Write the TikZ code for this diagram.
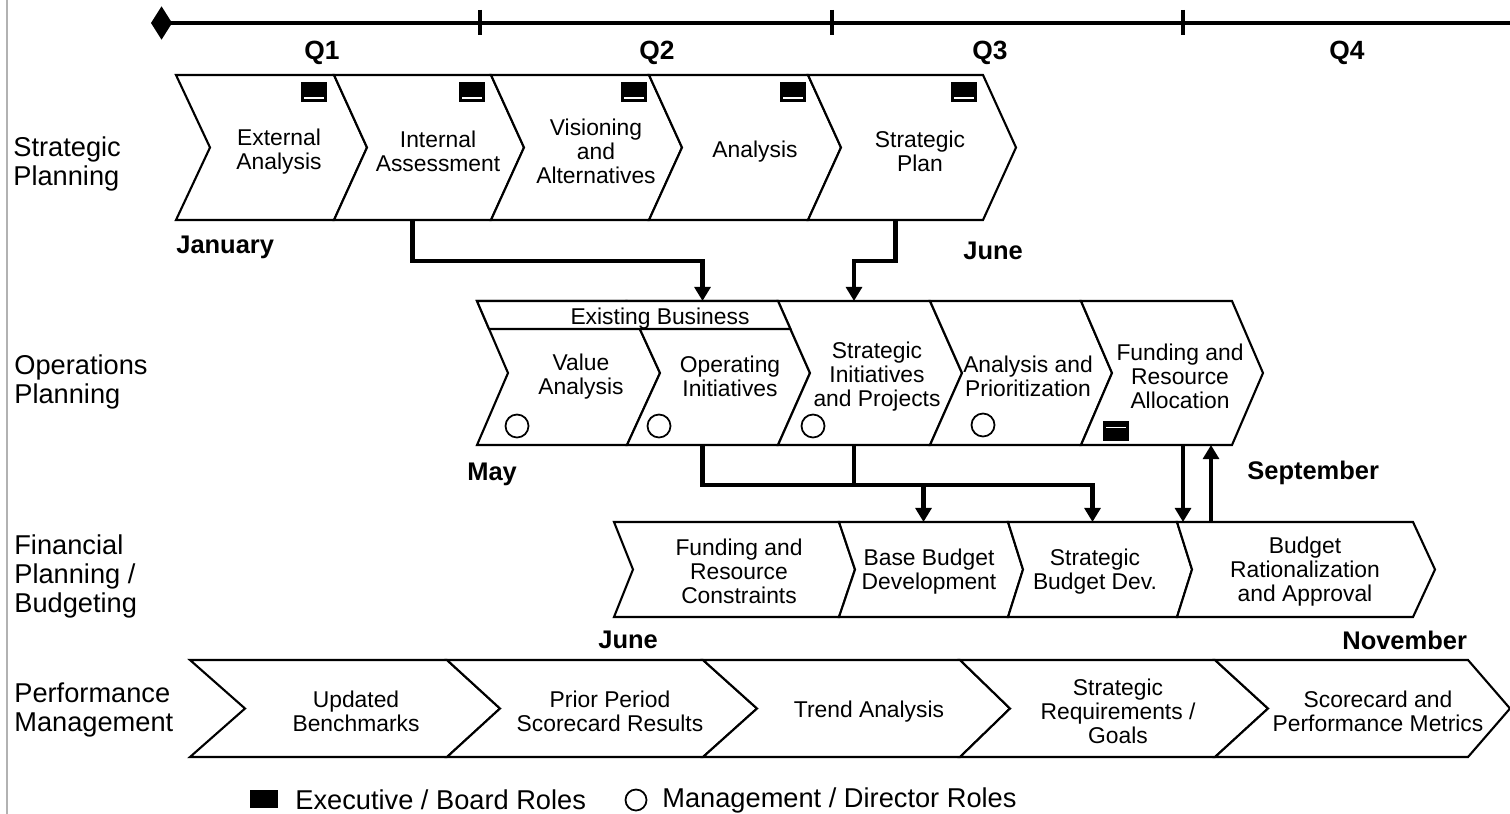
\documentclass[tikz,border=0pt]{standalone}
\usepackage{fontspec}
\setmainfont{Liberation Sans}
\usetikzlibrary{positioning,calc,arrows.meta}

\tikzset{
  chev/.style={draw, fill=white, line width=1.2pt},
  steptext/.style={align=center, inner sep=0pt, yshift=-1.5pt, font=\fontsize{13}{13.7}\selectfont},
  rowname/.style={anchor=west, align=left, inner sep=0pt, yshift=-1.5pt, font=\fontsize{15.5}{16.5}\selectfont},
  month/.style={anchor=west, inner sep=0pt, yshift=-1.2pt, font=\fontsize{14.5}{17}\selectfont\bfseries},
  quarter/.style={inner sep=0pt, yshift=-1.5pt, font=\fontsize{15}{17}\selectfont\bfseries},
  legendtext/.style={anchor=west, inner sep=0pt, font=\fontsize{15.5}{17}\selectfont},
  flow/.style={line width=2.4pt, -{Triangle[width=9pt,length=8pt]}},
  execrole/.style={draw, fill=black, line width=0.6pt, minimum width=0.5cm, minimum height=0.39cm, inner sep=0pt,
    path picture={\draw[white, line width=1pt]
      ([xshift=1.5pt,yshift=#1]path picture bounding box.south west) --
      ([xshift=-1.5pt,yshift=#1]path picture bounding box.south east);}},
  execrole/.default=2.2pt,
  mgrrole/.style={draw, circle, line width=1pt, minimum size=0.46cm, inner sep=0pt},
}

% chevron step: name, left x, right x, notch depth, tip depth (row from \rowtop, \rowbot)
\newcommand{\chevstep}[5]{%
  \draw[chev] (#2,\rowtop) -- (#3,\rowtop) -- ({#3+#5},{(\rowtop+\rowbot)/2}) -- (#3,\rowbot)
    -- (#2,\rowbot) -- ({#2+#4},{(\rowtop+\rowbot)/2}) -- cycle;
  \coordinate (#1-n) at ({(#2+#3)/2},\rowtop);
  \coordinate (#1-s) at ({(#2+#3)/2},\rowbot);
}

\begin{document}
\begin{tikzpicture}[x=0.02cm, y=-0.02cm]
  \useasboundingbox (0,0) rectangle (1510,814);
  \draw[gray!60, line width=0.6pt] (7,0) -- (7,814);

  % time line
  \coordinate (tl-start) at (151,23);
  \coordinate (tl-end) at (1510,23);
  \draw[line width=2.6pt, {Diamond[width=19pt,length=12pt]}-] (tl-start) -- (tl-end);
  \foreach \x in {480,832,1183}
    \draw[line width=1.8pt] (\x,10) -- (\x,35);
  \node[quarter] (q1) at (322,50) {Q1};
  \node[quarter] (q2) at (657,50) {Q2};
  \node[quarter] (q3) at (990,50) {Q3};
  \node[quarter] (q4) at (1347,50) {Q4};

  % row names
  \node[rowname] (sp) at (13,161) {Strategic\\Planning};
  \node[rowname] (op) at (14,379) {Operations\\Planning};
  \node[rowname] (fp) at (14,574) {Financial\\Planning /\\Budgeting};
  \node[rowname] (pm) at (14,707) {Performance\\Management};

  % strategic planning
  \def\rowtop{75}\def\rowbot{220}
  \chevstep{ext}{176}{334}{34}{33}
  \chevstep{int}{334}{491}{33}{33}
  \chevstep{vis}{491}{649}{33}{33}
  \chevstep{ana}{649}{808}{33}{33}
  \chevstep{stp}{808}{983}{33}{33}
  \node[steptext] (ext-t) at (279,149) {External\\Analysis};
  \node[steptext] (int-t) at (438,149) {Internal\\Assessment};
  \node[steptext] (vis-t) at (596,149) {Visioning\\and\\Alternatives};
  \node[steptext] (ana-t) at (755,149) {Analysis};
  \node[steptext] (stp-t) at (920,149) {Strategic\\Plan};
  \foreach \x/\n in {314/ext,472/int,634/vis,793/ana,964/stp}
    \node[execrole] (\n-r) at (\x,92) {};
  \node[month] (jan) at (176,245) {January};
  \node[month] (jun1) at (963,249) {June};

  % operations planning
  \def\rowtop{301}\def\rowbot{445}
  \chevstep{val}{477}{627}{31}{33}
  \chevstep{opi}{627}{778}{33}{32}
  \chevstep{sip}{778}{930}{32}{32}
  \chevstep{apr}{930}{1081}{32}{31}
  \chevstep{fra}{1081}{1232}{31}{31}
  \draw[chev] (477,301) -- (778,301) -- ({778+32*28/72},329) -- ({477+31*28/72},329) -- cycle;
  \node[steptext] (exb) at (660,316) {Existing Business};
  \node[steptext] (val-t) at (581,374) {Value\\Analysis};
  \node[steptext] (opi-t) at (730,374) {Operating\\Initiatives};
  \node[steptext] (sip-t) at (877,374) {Strategic\\Initiatives\\and Projects};
  \node[steptext] (apr-t) at (1028,374) {Analysis and\\Prioritization};
  \node[steptext] (fra-t) at (1180,374) {Funding and\\Resource\\Allocation};
  \node[mgrrole] (val-r) at (517,426) {};
  \node[mgrrole] (opi-r) at (659,426) {};
  \node[mgrrole] (sip-r) at (813,426) {};
  \node[mgrrole] (apr-r) at (983,425) {};
  \node[execrole=7.5pt] (fra-r) at (1116,431) {};
  \node[month] (may) at (467,472) {May};
  \node[month] (sep) at (1247,471) {September};

  % financial planning / budgeting
  \def\rowtop{522}\def\rowbot{617}
  \chevstep{frc}{614}{839}{19}{16}
  \chevstep{bbd}{839}{1008}{16}{15}
  \chevstep{sbd}{1008}{1177}{15}{15}
  \chevstep{bra}{1177}{1413}{15}{22}
  \node[steptext] (frc-t) at (739,569) {Funding and\\Resource\\Constraints};
  \node[steptext] (bbd-t) at (929,569) {Base Budget\\Development};
  \node[steptext] (sbd-t) at (1095,569) {Strategic\\Budget Dev.};
  \node[steptext] (bra-t) at (1305,569) {Budget\\Rationalization\\and Approval};
  \node[month] (jun2) at (598,638) {June};
  \node[month] (nov) at (1342,638) {November};

  % performance management
  \def\rowtop{660}\def\rowbot{757}
  \chevstep{ubm}{190}{447}{55}{53}
  \chevstep{pps}{447}{703}{53}{54}
  \chevstep{tra}{703}{960}{54}{50}
  \chevstep{srg}{960}{1215}{50}{53}
  \chevstep{spm}{1215}{1468}{53}{42}
  \node[steptext] (ubm-t) at (356,709) {Updated\\Benchmarks};
  \node[steptext] (pps-t) at (610,709) {Prior Period\\Scorecard Results};
  \node[steptext] (tra-t) at (869,709) {Trend Analysis};
  \node[steptext] (srg-t) at (1118,709) {Strategic\\Requirements /\\Goals};
  \node[steptext] (spm-t) at (1378,709) {Scorecard and\\Performance Metrics};

  % connectors
  \draw[flow] (int-s) -- ++(0,41) -| (opi-n);
  \draw[flow] (stp-s) -- ++(0,41) -| (sip-n);
  \draw[flow] (opi-s) -- ++(0,40) -| (bbd-n);
  \draw[flow] (sip-s) -- ++(0,40) -| (sbd-n);
  \draw[flow] ($(fra-s)+(26.5,0)$) coordinate (fd) -- (fd |- bra-n);
  \draw[flow] ($(bra-n)+(-84,0)$) coordinate (fu) -- (fu |- fra-s);

  % legend
  \node[fill=black, minimum width=0.56cm, minimum height=0.36cm, inner sep=0pt] (leg-ex) at (264,799) {};
  \node[legendtext] (leg-ex-t) at (295,800) {Executive / Board Roles};
  \node[mgrrole, minimum size=0.42cm] (leg-mg) at (636,800) {};
  \node[legendtext] (leg-mg-t) at (662,800) {Management / Director Roles};
\end{tikzpicture}
\end{document}
